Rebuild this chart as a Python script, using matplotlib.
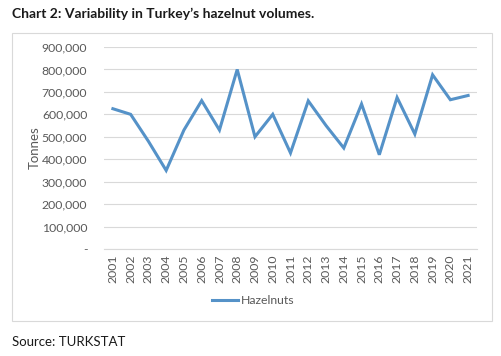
import matplotlib.pyplot as plt
from matplotlib.patches import Rectangle
from matplotlib.ticker import FuncFormatter

# Data
years = [str(y) for y in range(2001, 2022)]
hazelnuts = [625000, 600000, 480000, 350000, 530000, 661000, 530000, 800000,
             500000, 600000, 428000, 660000, 550000, 450000, 646000, 420000,
             675000, 512000, 776000, 665000, 684000]

W, H = 502, 356
plt.rcParams['font.family'] = ['Lato', 'DejaVu Sans']

fig = plt.figure(figsize=(W / 100, H / 100), dpi=100)
fig.patch.set_facecolor('white')

# Chart border box
fig.patches.append(Rectangle((12 / W, 1 - 321 / H), 480 / W, 288 / H,
                             transform=fig.transFigure, fill=False,
                             edgecolor='#d9d9d9', linewidth=0.8))

# Plot area
left, right, top, bottom = 104, 477, 47, 249
ax = fig.add_axes([left / W, 1 - bottom / H, (right - left) / W, (bottom - top) / H])

x = range(len(years))
ax.plot(x, hazelnuts, color='#5592c8', linewidth=2.2, label='Hazelnuts',
        solid_joinstyle='miter')

ax.set_xlim(-0.5, len(years) - 0.5)
ax.set_ylim(0, 900000)
ax.set_yticks(range(0, 900001, 100000))
ax.yaxis.set_major_formatter(FuncFormatter(lambda v, p: '-' if v == 0 else f'{int(v):,}'))
ax.set_xticks(list(x))
ax.set_xticklabels(years, rotation=90)

ax.grid(axis='y', color='#d9d9d9', linewidth=0.8)
ax.set_axisbelow(True)
for s in ax.spines.values():
    s.set_visible(False)
ax.spines['bottom'].set_visible(True)
ax.spines['bottom'].set_color('#d9d9d9')
ax.spines['bottom'].set_linewidth(0.8)
ax.tick_params(length=0, colors='#595959', labelsize=8.8)
ax.tick_params(axis='y', pad=12)
ax.tick_params(axis='x', pad=4)

ax.set_ylabel('Tonnes', color='#595959', fontsize=9.5, labelpad=1)

# Legend
fig.legend(loc='center', bbox_to_anchor=(253 / W, 1 - 301 / H), frameon=False,
           fontsize=8.8, handlelength=2.2, handletextpad=0.2, labelcolor='#595959')

fig.text(12 / W, 1 - 14 / H, 'Chart 2: Variability in Turkey\u2019s hazelnut volumes.',
         fontsize=10, fontweight='bold', color='#1a1a1a', va='center', ha='left')
fig.text(12 / W, 1 - 342 / H, 'Source: TURKSTAT', fontsize=9.5,
         color='#1a1a1a', va='center', ha='left')

fig.savefig('out.png', dpi=100)
